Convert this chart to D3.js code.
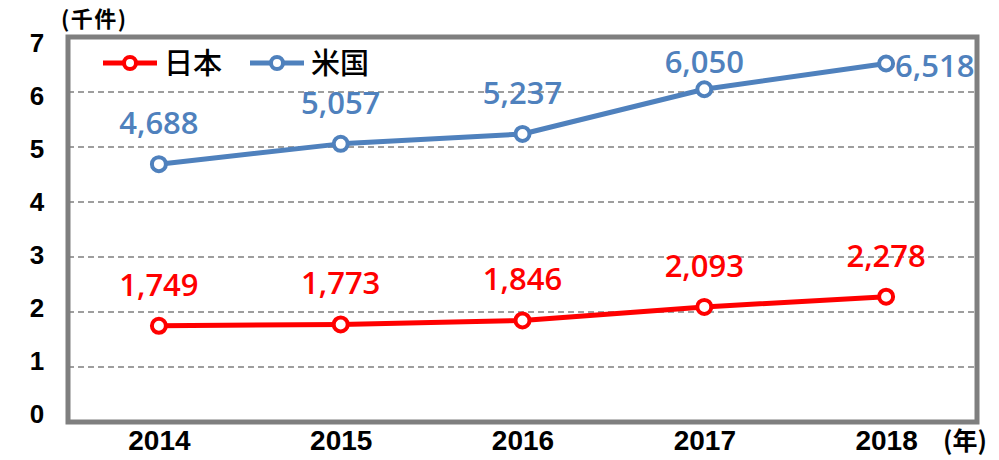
<!DOCTYPE html>
<html><head><meta charset="utf-8">
<script src="https://cdn.jsdelivr.net/npm/d3@7"></script>
<style>body{margin:0;background:#fff}</style>
</head><body>
<svg id="c" width="999" height="460"></svg>
<script>
const years = ["2014","2015","2016","2017","2018"];
const japan = [1749, 1773, 1846, 2093, 2278];
const usa = [4688, 5057, 5237, 6050, 6518];
const yTicks = [0,1,2,3,4,5,6,7];
const seriesNames = ["日本","米国"];
const colors = ["#ff0000","#4f81bd"];

const svg = d3.select("#c");
const L=68, R=977, T=37, B=422;
const x = d3.scalePoint().domain(years).range([L,R]).padding(0.5);
const y = d3.scaleLinear().domain([0,7]).range([B,T]);
const yLab = d3.scaleLinear().domain([0,7]).range([413,42]);

// gridlines
svg.append("g").selectAll("line").data(yTicks.filter(d=>d>0&&d<7)).join("line")
  .attr("x1",L).attr("x2",R).attr("y1",d=>y(d)).attr("y2",d=>y(d))
  .attr("stroke","#7f7f7f").attr("stroke-width",1.5).attr("stroke-dasharray","6,4");

// frame
svg.append("rect").attr("x",L).attr("y",T).attr("width",R-L).attr("height",B-T)
  .attr("fill","none").attr("stroke","#7f7f7f").attr("stroke-width",5);

// y axis labels
const yAxis = d3.axisLeft(yLab).tickValues(yTicks).tickSize(0).tickPadding(0).tickFormat(d3.format("d"));
const ga = svg.append("g").attr("transform",`translate(37,0)`).call(yAxis);
ga.select(".domain").remove();
ga.selectAll("text").attr("font-family","Liberation Sans, Arial, sans-serif").attr("font-weight","bold")
  .attr("font-size",26).attr("fill","#000").attr("text-anchor","middle").attr("dy","0.36em");

// x axis labels
const xAxis = d3.axisBottom(x).tickSize(0).tickPadding(0);
const gx = svg.append("g").attr("transform",`translate(0,450)`).call(xAxis);
gx.select(".domain").remove();
gx.selectAll("text").attr("font-family","Liberation Sans, Arial, sans-serif").attr("font-weight","bold")
  .attr("font-size",28).attr("fill","#000").attr("dy","0");

// unit labels
svg.append("text").attr("x",61).attr("y",27).text("(千件)")
  .attr("font-family","Noto Sans CJK JP").attr("font-weight","bold").attr("font-size",22)
  .attr("letter-spacing",1.5).attr("fill","#000");
svg.append("text").attr("x",943).attr("y",450).text("(年)")
  .attr("font-family","Noto Sans CJK JP").attr("font-weight","bold").attr("font-size",25).attr("fill","#000");

const fmt = d3.format(",");
const line = d3.line().x((d,i)=>x(years[i])).y(d=>y(d/1000));
[japan, usa].forEach((s,k)=>{
  svg.append("path").datum(s).attr("d",line).attr("fill","none")
    .attr("stroke",colors[k]).attr("stroke-width",5).attr("stroke-linejoin","round");
  svg.append("g").selectAll("circle").data(s).join("circle")
    .attr("cx",(d,i)=>x(years[i])).attr("cy",d=>y(d/1000)).attr("r",7)
    .attr("fill","#fff").attr("stroke",colors[k]).attr("stroke-width",4);
  svg.append("g").selectAll("text").data(s).join("text")
    .attr("x",(d,i)=> (k===1 && i===4) ? x(years[i])+9 : x(years[i]))
    .attr("y",(d,i)=> (k===1 && i===4) ? y(d/1000)+13 : Math.max(73, y(d/1000)-30))
    .attr("text-anchor",(d,i)=> (k===1 && i===4) ? "start" : "middle")
    .attr("font-family","Open Sans, Noto Sans, sans-serif").attr("font-size",31).attr("font-weight",600)
    .attr("fill",colors[k]).text(d=>fmt(d));
});

// legend
const lg = svg.append("g");
seriesNames.forEach((n,k)=>{
  const x0 = k===0 ? 103 : 250;
  lg.append("line").attr("x1",x0).attr("x2",x0+54).attr("y1",63).attr("y2",63)
    .attr("stroke",colors[k]).attr("stroke-width",5);
  lg.append("circle").attr("cx",x0+27).attr("cy",63).attr("r",6)
    .attr("fill","#fff").attr("stroke",colors[k]).attr("stroke-width",4);
  lg.append("text").attr("x",x0+61).attr("y",74).text(n)
    .attr("font-family","Noto Sans CJK JP").attr("font-size",29).attr("font-weight",500).attr("fill","#000");
});
</script>
</body></html>
